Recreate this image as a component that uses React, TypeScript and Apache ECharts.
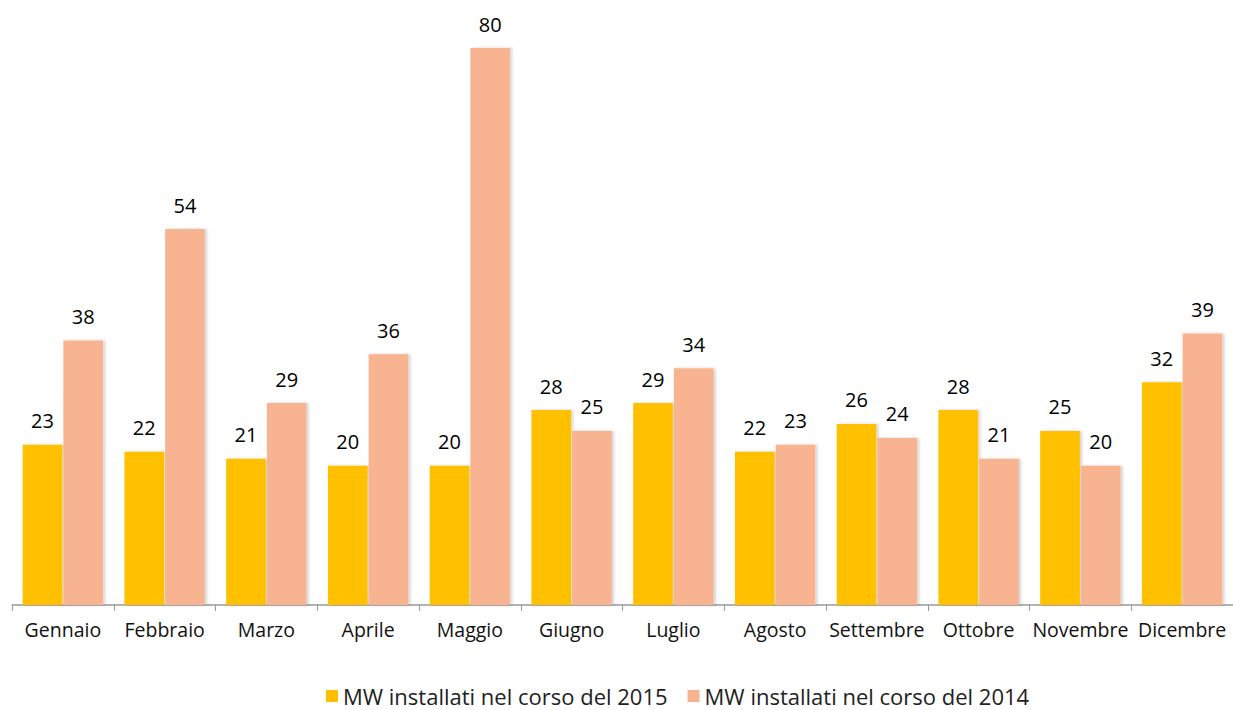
import React, { useEffect, useRef } from "react";
import * as echarts from "echarts";

const categories = ["Gennaio", "Febbraio", "Marzo", "Aprile", "Maggio", "Giugno", "Luglio", "Agosto", "Settembre", "Ottobre", "Novembre", "Dicembre"];
const mw2015 = [23, 22, 21, 20, 20, 28, 29, 22, 26, 28, 25, 32];
const mw2014 = [38, 54, 29, 36, 80, 25, 34, 23, 24, 21, 20, 39];
const seriesNames = ["MW installati nel corso del 2015", "MW installati nel corso del 2014"];
const colors = ["#FFC000", "#F8B490"];

export default function App() {
  const ref = useRef<HTMLDivElement>(null);
  useEffect(() => {
    const chart = echarts.init(ref.current!, null, { renderer: "svg" });
    const font = "'Open Sans', 'Noto Sans', sans-serif";
    const mk = (i: number, data: number[]) => ({
      name: seriesNames[i],
      type: "bar",
      data,
      barGap: "2.5%",
      barCategoryGap: "21%",
      itemStyle: {
        color: colors[i],
        shadowColor: "rgba(0,0,0,0.18)",
        shadowBlur: 3,
        shadowOffsetX: 2,
        shadowOffsetY: 0,
      },
      label: {
        show: true,
        position: "top",
        distance: 14,
        color: "#000",
        fontSize: 20,
        fontWeight: 500,
        fontFamily: font,
      },
    });
    chart.setOption({
      animation: false,
      backgroundColor: "#fff",
      grid: { left: 12, width: 1228, top: 48, bottom: 105, containLabel: false },
      legend: {
        left: 321,
        top: 680,
        itemWidth: 12,
        itemHeight: 12,
        itemGap: 20,
        icon: "rect",
        textStyle: { fontSize: 22, color: "#222", fontFamily: font, lineHeight: 22 },
        data: seriesNames,
      },
      xAxis: {
        type: "category",
        data: categories,
        axisLine: { lineStyle: { color: "#999", width: 1.5 } },
        axisTick: { show: true, length: 6, lineStyle: { color: "#999" } },
        axisLabel: { interval: 0, fontSize: 19.5, color: "#111", margin: 14, fontFamily: font },
      },
      yAxis: {
        type: "value",
        min: 0,
        max: 80,
        show: false,
        splitLine: { show: false },
      },
      series: [mk(0, mw2015), mk(1, mw2014)],
    });
    return () => chart.dispose();
  }, []);
  return <div ref={ref} style={{ width: 1233, height: 710, position: "absolute", left: 0, top: 0 }} />;
}
